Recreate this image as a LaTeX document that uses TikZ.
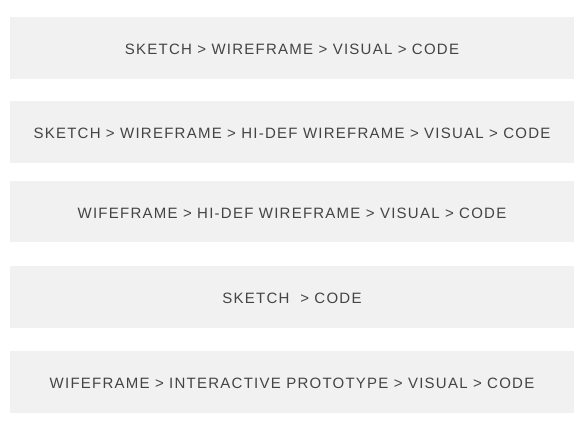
\documentclass[tikz,border=0pt]{standalone}
\usepackage{fontspec}
\setmainfont{Liberation Sans}[LetterSpace=8.3]
\definecolor{barfill}{HTML}{F1F1F1}
\definecolor{bartext}{HTML}{444444}
\tikzset{
  bar/.style={fill=barfill, draw=none},
  bartxt/.style={anchor=base, inner sep=0pt, text=bartext, font=\fontsize{15}{18}\selectfont}
}
\begin{document}
\begin{tikzpicture}[x=1pt, y=-1pt]
\useasboundingbox[fill=white] (0,0) rectangle (587,428);
\fill[bar] (10,17) rectangle (574,79);
\fill[bar] (10,101) rectangle (574,163);
\fill[bar] (10,181) rectangle (574,242);
\fill[bar] (10,266) rectangle (574,328);
\fill[bar] (10,351) rectangle (574,413);
\node[bartxt] (t1) at (292,54.7) {SKETCH > WIREFRAME > VISUAL > CODE};
\node[bartxt] (t2) at (292,138.7) {SKETCH > WIREFRAME > HI-DEF WIREFRAME > VISUAL > CODE};
\node[bartxt] (t3) at (292,218.2) {WIFEFRAME > HI-DEF WIREFRAME > VISUAL > CODE};
\node[bartxt] (t4) at (292,303.7) {SKETCH~~> CODE};
\node[bartxt] (t5) at (292,388.7) {WIFEFRAME > INTERACTIVE PROTOTYPE > VISUAL > CODE};
\end{tikzpicture}
\end{document}
